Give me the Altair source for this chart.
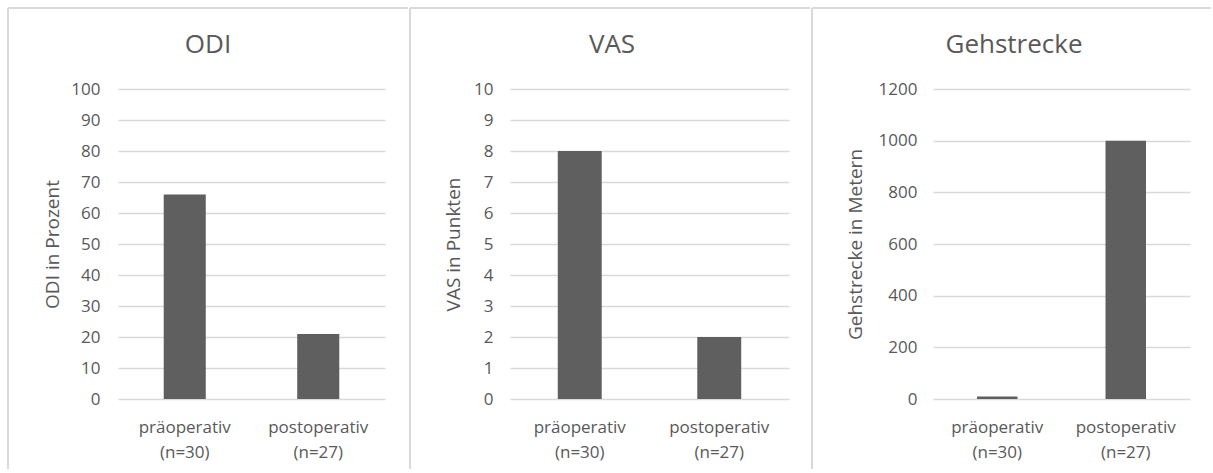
import altair as alt
import pandas as pd

# ---- data ----
categories = ["präoperativ (n=30)", "postoperativ (n=27)"]
odi_values = [66, 21]
vas_values = [8, 2]
geh_values = [10, 1000]

odi_ticks = [0, 10, 20, 30, 40, 50, 60, 70, 80, 90, 100]
vas_ticks = [0, 1, 2, 3, 4, 5, 6, 7, 8, 9, 10]
geh_ticks = [0, 200, 400, 600, 800, 1000, 1200]

FONT = "Open Sans"
TXT = "#595959"
BAR = "#5f5f5f"
GRID = "#d9d9d9"
BORDER = "#d9d9d9"
H = 310


def panel(title, vals, ytitle, domain, ticks, width, title_x, ytitle_x,
          lab_pad, left, right):
    df = pd.DataFrame({"cat": categories, "val": vals})
    bars = alt.Chart(df).mark_bar(color=BAR).encode(
        x=alt.X(
            "cat:N", sort=categories,
            scale=alt.Scale(paddingInner=0.685, paddingOuter=0.3425),
            axis=alt.Axis(title=None, labelAngle=0,
                          labelExpr="split(datum.label, ' ')",
                          domain=False, ticks=False, labelPadding=20,
                          labelFontSize=17, labelLineHeight=25.5,
                          labelColor=TXT, labelFont=FONT),
        ),
        y=alt.Y(
            "val:Q",
            scale=alt.Scale(domain=domain, nice=False, zero=True),
            axis=alt.Axis(values=ticks, format="d", title=ytitle, grid=True,
                          gridColor=GRID, gridWidth=1.3, domain=False,
                          ticks=False, labelPadding=lab_pad,
                          labelFontSize=17, labelColor=TXT, labelFont=FONT,
                          titleFont=FONT, titleFontSize=19,
                          titleFontWeight="normal", titleColor=TXT,
                          titleX=ytitle_x, titleBaseline="middle"),
        ),
    )
    one = alt.Data(values=[{}])
    base = alt.Chart(one).mark_rule(color=BORDER, strokeWidth=2)
    left_rule = base.encode(x=alt.value(left), y=alt.value(-81), y2=alt.value(380))
    top_rule = base.encode(x=alt.value(left), x2=alt.value(right), y=alt.value(-81))
    ttl = alt.Chart(one).mark_text(
        font=FONT, fontSize=26, color=TXT, align="center", baseline="alphabetic"
    ).encode(x=alt.value(title_x), y=alt.value(-36), text=alt.value(title))
    return alt.layer(left_rule, top_rule, ttl, bars).properties(width=width, height=H)


p1 = panel("ODI", odi_values, "ODI in Prozent", [0, 100], odi_ticks,
           267, 90, -66, 18, -110, 290)
p2 = panel("VAS", vas_values, "VAS in Punkten", [0, 10], vas_ticks,
           279, 102, -57, 17, -100, 300)
p3 = panel("Gehstrecke", geh_values, "Gehstrecke in Metern", [0, 1200],
           geh_ticks, 257, 81, -78, 16, -121, 278)

chart = alt.hconcat(p1, p2, p3, spacing=0).properties(
    padding={"left": 7, "top": 7, "right": 0, "bottom": 0},
    background="white",
).configure_view(stroke=None)

chart.save("out.html", embed_options={"renderer": "svg", "actions": False})
